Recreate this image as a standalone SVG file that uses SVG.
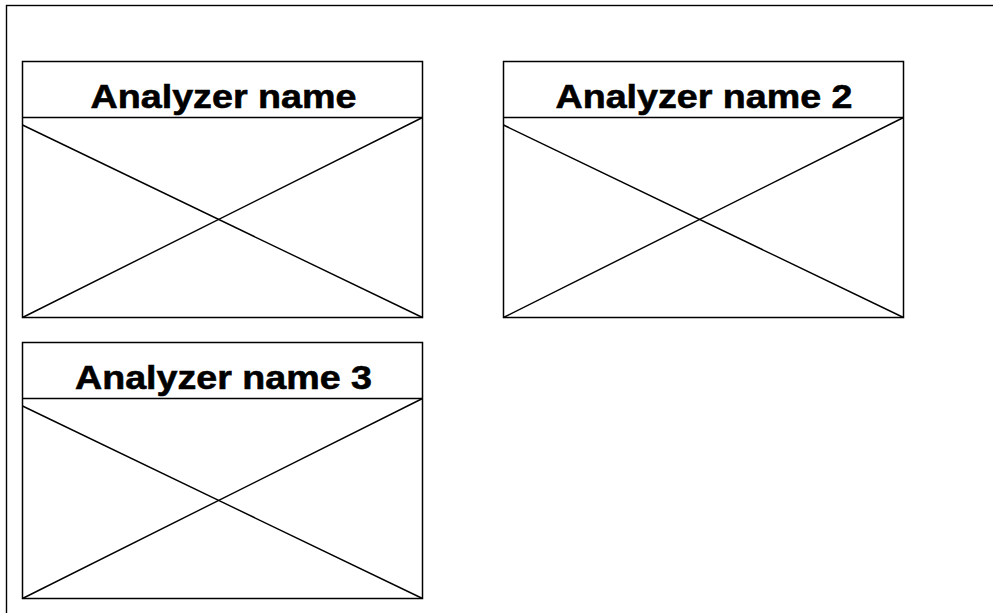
<svg xmlns="http://www.w3.org/2000/svg" width="993" height="613" viewBox="0 0 993 613">
<style>
.frame{fill:#fff;stroke:#000;stroke-width:1.4}
.box{fill:#fff;stroke:#000;stroke-width:1.5}
.ln{stroke:#000;stroke-width:1.4;fill:none}
.t{font-family:"Liberation Sans",Arial,sans-serif;font-weight:bold;font-size:34px;fill:#000;stroke:#000;stroke-width:0.6;text-anchor:middle}
</style>
<rect width="993" height="613" fill="#fff"/>
<rect class="frame" x="6.5" y="5.5" width="1000" height="700"/>
<g id="analyzer1">
<rect class="box" x="22.5" y="61.5" width="400" height="256"/>
<line class="ln" x1="22.5" y1="117.5" x2="422.5" y2="117.5"/>
<line class="ln" x1="22.5" y1="125" x2="422.5" y2="317.5"/>
<line class="ln" x1="422.5" y1="117.5" x2="22.5" y2="317.5"/>
<text class="t" x="223.5" y="108" textLength="266" lengthAdjust="spacingAndGlyphs">Analyzer name</text>
</g>
<g id="analyzer2">
<rect class="box" x="503.5" y="61.5" width="400" height="256"/>
<line class="ln" x1="503.5" y1="117.5" x2="903.5" y2="117.5"/>
<line class="ln" x1="503.5" y1="125" x2="903.5" y2="317.5"/>
<line class="ln" x1="903.5" y1="117.5" x2="503.5" y2="317.5"/>
<text class="t" x="704" y="108" textLength="297" lengthAdjust="spacingAndGlyphs">Analyzer name 2</text>
</g>
<g id="analyzer3">
<rect class="box" x="22.5" y="342.5" width="400" height="256"/>
<line class="ln" x1="22.5" y1="398.5" x2="422.5" y2="398.5"/>
<line class="ln" x1="22.5" y1="406" x2="422.5" y2="598.5"/>
<line class="ln" x1="422.5" y1="398.5" x2="22.5" y2="598.5"/>
<text class="t" x="223.5" y="389" textLength="297" lengthAdjust="spacingAndGlyphs">Analyzer name 3</text>
</g>
<g id="connectors"></g>
</svg>
